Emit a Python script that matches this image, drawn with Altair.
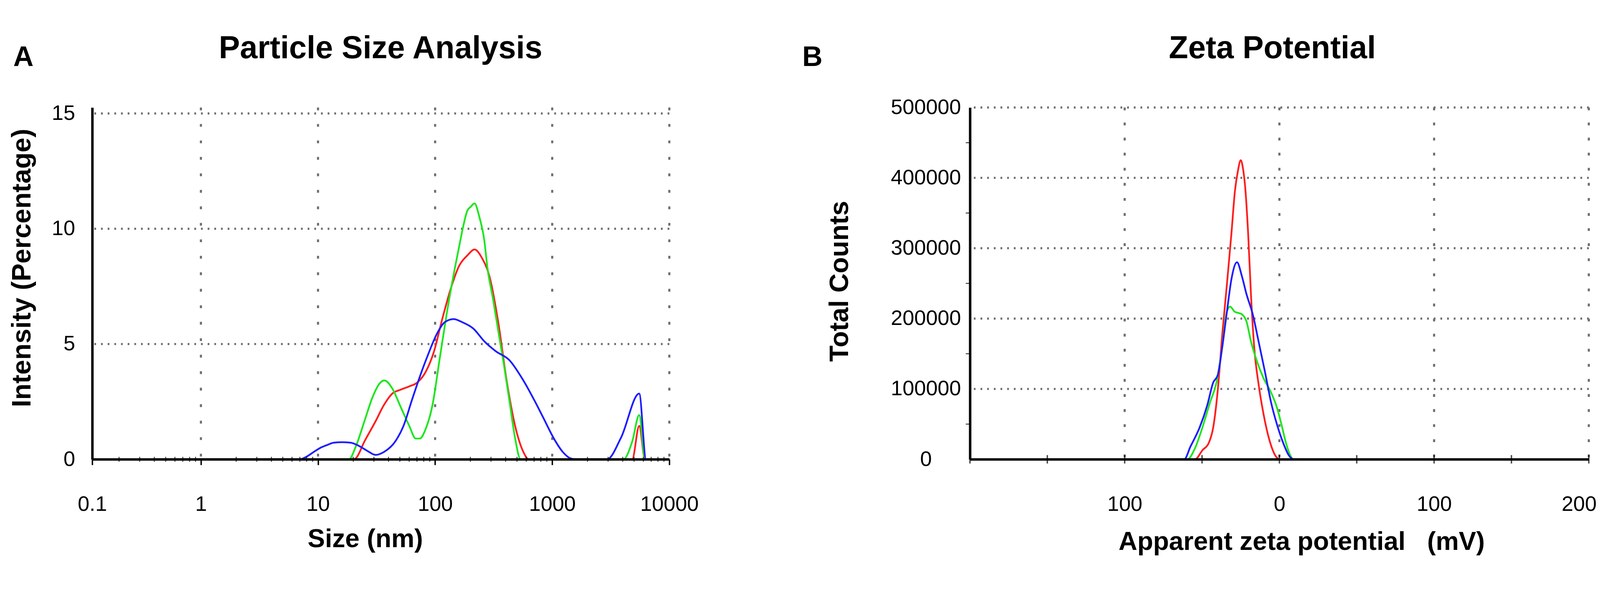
import altair as alt
import pandas as pd

# ---------------- Panel A : Particle Size Analysis ----------------
a_red_size = [0.4, 20, 21, 24.9, 31, 36.6, 43.1, 50.8, 59.9, 70.3, 82.8, 97.6, 115, 136, 160, 189, 217, 250, 294, 347, 408, 481, 567, 631, 4820, 5530, 6200, 7000]
a_red_int = [0, 0, 0.04, 0.77, 1.65, 2.36, 2.85, 3.02, 3.16, 3.33, 3.78, 4.66, 6.08, 7.4, 8.38, 8.85, 9.1, 8.75, 7.85, 5.9, 3.42, 1.47, 0.32, 0, 0, 1.45, 0, 0]

a_green_size = [0.4, 18.4, 21, 24.9, 29.3, 33.6, 36.8, 43.1, 50.8, 59.9, 68.4, 74, 82.8, 95, 109, 125, 144, 160, 172, 189, 201, 217, 239, 263, 280, 312, 356, 386, 431, 481, 537, 4050, 4820, 5530, 6200, 7000]
a_green_int = [0, 0, 0.55, 1.65, 2.71, 3.29, 3.42, 3.07, 2.27, 1.47, 0.9, 0.9, 1.3, 2.36, 4.31, 6.25, 8.02, 9.2, 10.0, 10.8, 10.95, 11.1, 10.5, 9.5, 8.29, 6.96, 5.19, 4.13, 2.54, 0.94, 0, 0, 0.77, 1.92, 0, 0]

a_blue_size = [0.4, 7.0, 7.9, 9.2, 10.5, 12.1, 13.6, 16, 19, 22.2, 26.3, 31, 36.6, 45.6, 53.9, 63.1, 74.2, 87.5, 103, 121, 144, 170, 211, 265, 327, 431, 567, 707, 834, 1044, 1230, 1450, 1600, 2940, 3870, 5530, 6330, 7000]
a_blue_int = [0, 0, 0.1, 0.32, 0.5, 0.63, 0.72, 0.74, 0.72, 0.59, 0.37, 0.19, 0.32, 0.77, 1.47, 2.54, 3.6, 4.57, 5.42, 5.95, 6.08, 5.95, 5.68, 5.1, 4.7, 4.3, 3.42, 2.54, 1.83, 0.86, 0.32, 0.03, 0, 0, 0.94, 2.85, 0, 0]

a_x_ticks = [0.118, 1, 10, 100, 1000, 10000]
a_x_labels = ["0.1", "1", "10", "100", "1000", "10000"]
a_y_ticks = [0, 5, 10, 15]
a_grid_x = [1, 10, 100, 1000, 10000]
a_grid_y = [5, 10, 15]
a_minor_x = [m * 10.0 ** e for e in range(-1, 4) for m in range(2, 10)]

# ---------------- Panel B : Zeta Potential ----------------
b_red_mv = [-65, -54.5, -49.7, -45.7, -42.8, -39.8, -36.9, -33.9, -31, -28.7, -26.8, -25, -23.3, -22.2, -20.2, -18.3, -16.3, -13.4, -10.4, -6.4, -1.5, 0, 5]
b_red_cnt = [0, 0, 13000, 23000, 45000, 99000, 178000, 249000, 321000, 382000, 410000, 425000, 410000, 389000, 321000, 231000, 160000, 106000, 66000, 27000, 2000, 0, 0]

b_green_mv = [-65, -59.5, -54.5, -49.8, -44.8, -40.7, -36.9, -33.9, -31.9, -29, -24.2, -21.3, -18.3, -14.3, -10.4, -5.4, -1.5, 1.4, 4.3, 7.2, 9, 15]
b_green_cnt = [0, 0, 16000, 45000, 81000, 109000, 160000, 210000, 217000, 210000, 206000, 196000, 167000, 138000, 116000, 95000, 73000, 49000, 23000, 5000, 0, 0]

b_blue_mv = [-150, -61.5, -57.5, -51.6, -46.6, -42.8, -39.8, -36.9, -33.9, -31, -27.4, -24.2, -21.3, -17.2, -13.4, -9.3, -5.4, -1.5, 2.5, 6.3, 9.3, 150]
b_blue_cnt = [0, 0, 18000, 45000, 77000, 109000, 120000, 160000, 210000, 256000, 280000, 260000, 235000, 206000, 167000, 124000, 81000, 49000, 23000, 5000, 0, 0]

b_x_ticks = [-100, 0, 100, 200]
b_x_labels = ["100", "0", "100", "200"]
b_y_ticks = [0, 100000, 200000, 300000, 400000, 500000]
b_y_labels = ["0", "100000", "200000", "300000", "400000", "500000"]
b_grid_x = [-100, 0, 100, 200]
b_grid_y = [100000, 200000, 300000, 400000, 500000]
b_minor_x = [-200, -150, -100, -50, 0, 50, 100, 150, 200]
b_minor_y = [50000, 150000, 250000, 350000, 450000]

panel_letters = ["A", "B"]
panel_titles = ["Particle Size Analysis", "Zeta Potential"]
a_x_title = "Size (nm)"
a_y_title = "Intensity (Percentage)"
b_x_title = "Apparent zeta potential\u00a0\u00a0 (mV)"
b_y_title = "Total Counts"

series_names = ["Red", "Green", "Blue"]
series_colors = ["#ff1e1e", "#1ee61e", "#1e1eff"]
series_widths = [5, 5, 8]

FONT = "Liberation Sans"
GRID = "#6e6e6e"
TICK_FS = 60


def label_expr(values, labels):
    parts = [f"datum.value == {v} ? '{l}'" for v, l in zip(values, labels)]
    return " : ".join(parts) + " : ''"


def long_frame(xs_list, ys_list, xkey, ykey):
    frames = []
    for name, xs, ys in zip(series_names, xs_list, ys_list):
        frames.append(pd.DataFrame({xkey: xs, ykey: ys, "sample": name}))
    return pd.concat(frames, ignore_index=True)


color_enc = alt.Color("sample:N", scale=alt.Scale(domain=series_names, range=series_colors), legend=None)
width_enc = alt.StrokeWidth("sample:N", scale=alt.Scale(domain=series_names, range=series_widths), legend=None)


def text_layer(txt, size, x, y, align):
    # y is the top of the text box
    return alt.Chart(pd.DataFrame({"t": [txt]})).mark_text(
        font=FONT, fontSize=size, fontWeight="bold", color="black", align=align, baseline="top"
    ).encode(text="t:N", x=alt.value(x), y=alt.value(y))


# ---------------- Panel A chart ----------------
A_W, A_H = 1645, 1003
xA = alt.Scale(type="log", domain=[0.118, 10000], nice=False)
yA = alt.Scale(domain=[0, 15.26], nice=False, zero=False)

dfA = long_frame([a_red_size, a_green_size, a_blue_size], [a_red_int, a_green_int, a_blue_int], "size", "intensity")

axA_x = alt.Axis(values=a_x_ticks, labelExpr=label_expr(a_x_ticks, a_x_labels), grid=False,
                 domainColor="black", domainWidth=7, ticks=True, tickColor="black", tickWidth=4, tickSize=16,
                 labelFont=FONT, labelFontSize=TICK_FS, labelColor="black", labelPadding=131, labelLimit=400,
                 labelBaseline="alphabetic", labelFlush=False, labelOverlap=False,
                 title=a_x_title, titleFont=FONT, titleFontSize=74, titleFontWeight="bold", titleColor="black",
                 titleX=778, titleY=250, titleBaseline="alphabetic", zindex=1)
axA_y = alt.Axis(values=a_y_ticks, grid=False, ticks=False, domainColor="black", domainWidth=7,
                 labelFont=FONT, labelFontSize=TICK_FS, labelColor="black", labelPadding=49, labelLimit=400,
                 labelAlign="right", labelBaseline="middle", labelOverlap=False,
                 title=a_y_title, titleFont=FONT, titleFontSize=76, titleFontWeight="bold", titleColor="black",
                 titleX=-176, titleY=457, titleBaseline="alphabetic", zindex=1)

dfA_minor = pd.DataFrame({"v": [v for v in a_minor_x if v > 0.118], "z": 0})

gridA_v = alt.Chart(pd.DataFrame({"v": a_grid_x})).mark_rule(color=GRID, strokeWidth=6, strokeDash=[8, 39]).encode(
    x=alt.X("v:Q", scale=xA, axis=axA_x))
gridA_h = alt.Chart(pd.DataFrame({"v": a_grid_y})).mark_rule(color=GRID, strokeWidth=6, strokeDash=[5, 14]).encode(
    y=alt.Y("v:Q", scale=yA, axis=axA_y))
linesA = alt.Chart(dfA).mark_line(interpolate="monotone").encode(
    x=alt.X("size:Q", scale=xA, axis=axA_x),
    y=alt.Y("intensity:Q", scale=yA, axis=axA_y),
    color=color_enc, strokeWidth=width_enc)
minorA = alt.Chart(dfA_minor).mark_tick(orient="vertical", color="black", size=14, thickness=3).encode(
    x=alt.X("v:Q", scale=xA, axis=axA_x), y=alt.Y("z:Q", scale=yA, axis=axA_y))

chartA = alt.layer(
    gridA_v, gridA_h, linesA, minorA,
    text_layer(panel_letters[0], 80, -225, -181, "left"),
    text_layer(panel_titles[0], 90, 822, -211, "center"),
).properties(width=A_W, height=A_H)

# ---------------- Panel B chart ----------------
B_W, B_H = 1764, 1003
xB = alt.Scale(domain=[-200, 200], nice=False, zero=False)
yB = alt.Scale(domain=[0, 500000], nice=False, zero=False)

dfB = long_frame([b_red_mv, b_green_mv, b_blue_mv], [b_red_cnt, b_green_cnt, b_blue_cnt], "mv", "counts")

axB_x = alt.Axis(values=b_x_ticks, labelExpr=label_expr(b_x_ticks, b_x_labels), grid=False,
                 domainColor="black", domainWidth=7, ticks=False,
                 labelFont=FONT, labelFontSize=TICK_FS, labelColor="black", labelPadding=147, labelLimit=400,
                 labelBaseline="alphabetic", labelFlush=True, labelFlushOffset=22, labelOverlap=False,
                 title=b_x_title, titleFont=FONT, titleFontSize=74, titleFontWeight="bold", titleColor="black",
                 titleX=945, titleY=258, titleBaseline="alphabetic", zindex=1)
axB_y = alt.Axis(values=b_y_ticks, labelExpr=label_expr(b_y_ticks, b_y_labels), grid=False, ticks=False,
                 domainColor="black", domainWidth=7,
                 labelFont=FONT, labelFontSize=TICK_FS, labelColor="black", labelPadding=126, labelLimit=400,
                 labelAlign="center", labelBaseline="middle", labelOverlap=False,
                 title=b_y_title, titleFont=FONT, titleFontSize=76, titleFontWeight="bold", titleColor="black",
                 titleX=-348, titleY=495, titleBaseline="alphabetic", zindex=1)

dfB_minor_x = pd.DataFrame({"v": b_minor_x, "z": 0})
dfB_minor_y = pd.DataFrame({"v": b_minor_y, "z": -200})

gridB_v = alt.Chart(pd.DataFrame({"v": b_grid_x})).mark_rule(color=GRID, strokeWidth=6, strokeDash=[8, 35]).encode(
    x=alt.X("v:Q", scale=xB, axis=axB_x))
gridB_h = alt.Chart(pd.DataFrame({"v": b_grid_y})).mark_rule(color=GRID, strokeWidth=6, strokeDash=[5, 14]).encode(
    y=alt.Y("v:Q", scale=yB, axis=axB_y))
linesB = alt.Chart(dfB).mark_line(interpolate="monotone", strokeWidth=5).encode(
    x=alt.X("mv:Q", scale=xB, axis=axB_x),
    y=alt.Y("counts:Q", scale=yB, axis=axB_y),
    color=color_enc)
minorBx = alt.Chart(dfB_minor_x).mark_tick(orient="vertical", color="black", size=24, thickness=4).encode(
    x=alt.X("v:Q", scale=xB, axis=axB_x), y=alt.Y("z:Q", scale=yB, axis=axB_y))
minorBy = alt.Chart(dfB_minor_y).mark_tick(orient="horizontal", color="black", size=12, thickness=3, xOffset=-6).encode(
    y=alt.Y("v:Q", scale=yB, axis=axB_y), x=alt.X("z:Q", scale=xB, axis=axB_x))

chartB = alt.layer(
    gridB_v, gridB_h, linesB, minorBx, minorBy,
    text_layer(panel_letters[1], 80, -478, -181, "left"),
    text_layer(panel_titles[1], 90, 862, -211, "center"),
).properties(width=B_W, height=B_H)

chart = alt.hconcat(chartA, chartB, spacing=294).properties(
    padding={"left": 16, "top": 0, "right": 0, "bottom": 0}, background="white"
).configure_view(stroke="transparent")

chart.save("out.html", embed_options={"renderer": "svg", "actions": False})
